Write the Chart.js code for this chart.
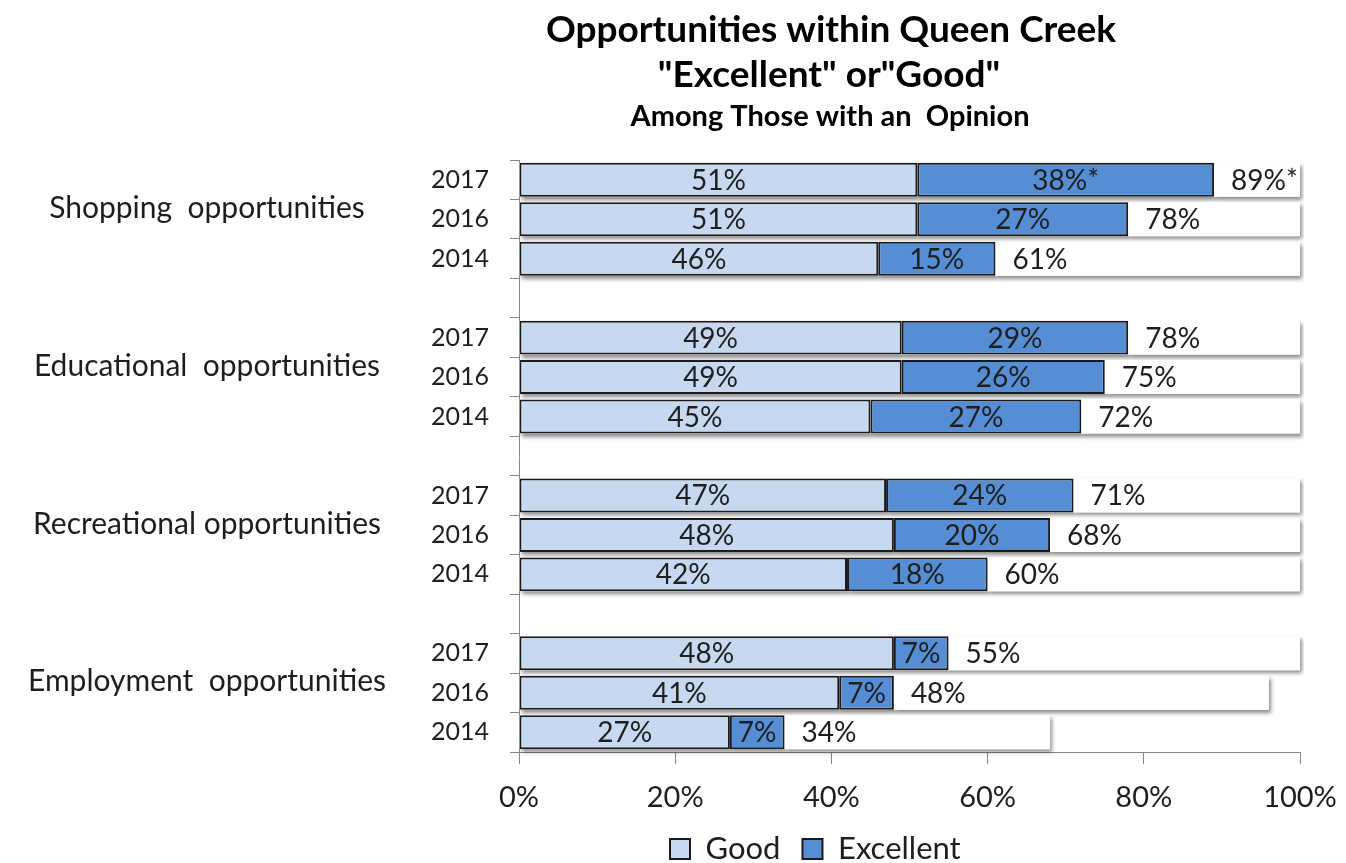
<!DOCTYPE html>
<html>
<head>
<meta charset="utf-8">
<title>Opportunities within Queen Creek</title>
<script src="https://cdn.jsdelivr.net/npm/chart.js@4.4.1/dist/chart.umd.min.js"></script>
<style>
  html, body { margin: 0; padding: 0; background: #ffffff; }
  #wrap { width: 1346px; height: 863px; position: relative; }
</style>
</head>
<body>
<div id="wrap"><canvas id="opportunities"></canvas></div>
<script>
// survey results, one row per group, years in order 2017 / 2016 / 2014
const groups = ["Shopping  opportunities", "Educational  opportunities", "Recreational opportunities", "Employment  opportunities"];
const years = ["2017", "2016", "2014"];
const good = [[51, 51, 46], [49, 49, 45], [47, 48, 42], [48, 41, 27]];
const excellent = [[38, 27, 15], [29, 26, 27], [24, 20, 18], [7, 7, 7]];
const totals = [[89, 78, 61], [78, 75, 72], [71, 68, 60], [55, 48, 34]];
// significant change vs. previous survey
const starred = [[true, false, false], [false, false, false], [false, false, false], [false, false, false]];
const xTicks = [0, 20, 40, 60, 80, 100];

const FONT = "Lato, 'Liberation Sans', Arial, sans-serif";
const INK = "#1e1e1e";
const LEGEND_FONT = 31;
const LEGEND_PAD = 22;

// flatten groups into rows, with an empty spacer row between groups
const labels = [];
const goodRows = [];
const excRows = [];
const totalRows = [];
const starRows = [];
const groupRow = [];
groups.forEach((g, gi) => {
  if (gi > 0) {
    labels.push("");
    goodRows.push(null);
    excRows.push(null);
    totalRows.push(null);
    starRows.push(false);
  }
  years.forEach((y, yi) => {
    if (yi === 1) groupRow.push(labels.length);
    labels.push(y);
    goodRows.push(good[gi][yi]);
    excRows.push(excellent[gi][yi]);
    totalRows.push(totals[gi][yi]);
    starRows.push(starred[gi][yi]);
  });
});

// soft drop shadow behind every bar
const shadowPlugin = {
  id: "barShadow",
  beforeDatasetsDraw(chart) {
    const { ctx, chartArea } = chart;
    ctx.save();
    ctx.beginPath();
    ctx.rect(chartArea.left, chartArea.top, chartArea.right - chartArea.left + 4, chartArea.bottom - chartArea.top + 6);
    ctx.clip();
    ctx.shadowColor = "rgba(0,0,0,0.45)";
    ctx.shadowBlur = 4;
    ctx.shadowOffsetX = 2;
    ctx.shadowOffsetY = 3;
    ctx.fillStyle = "#ffffff";
    chart.data.datasets.forEach((ds, i) => {
      chart.getDatasetMeta(i).data.forEach((bar, j) => {
        if (ds.data[j] == null) return;
        const { x, y, base, height } = bar.getProps(["x", "y", "base", "height"], true);
        const left = Math.min(x, base);
        const right = Math.min(Math.max(x, base), chartArea.right);
        ctx.fillRect(left, y - height / 2, right - left, height);
      });
    });
    ctx.restore();
  }
};

// value labels inside the bars and totals after them, plus titles and group names
const textPlugin = {
  id: "chartText",
  afterUpdate(chart) {
    // park the legend under the axis, left of the plot centre
    const legend = chart.legend;
    const first = legend.legendHitBoxes[0];
    const dx = 670 - first.left;
    const h = legend.height;
    legend.left += dx;
    legend.right += dx;
    legend.top = 849 - LEGEND_PAD - LEGEND_FONT / 2;
    legend.bottom = legend.top + h;
  },
  afterDatasetsDraw(chart) {
    const { ctx } = chart;
    const goodMeta = chart.getDatasetMeta(0);
    const excMeta = chart.getDatasetMeta(1);
    ctx.save();
    ctx.fillStyle = INK;
    ctx.textBaseline = "middle";
    ctx.font = "28px " + FONT;
    labels.forEach((lab, j) => {
      if (goodRows[j] == null) return;
      const star = starRows[j] ? "*" : "";
      const g = goodMeta.data[j];
      const e = excMeta.data[j];
      ctx.textAlign = "center";
      ctx.fillText(goodRows[j] + "%", (g.x + g.base) / 2, g.y + 1);
      ctx.fillText(excRows[j] + "%" + star, (e.x + e.base) / 2, e.y + 1);
      ctx.textAlign = "left";
      ctx.fillText(totalRows[j] + "%" + star, e.x + 17, e.y + 1);
    });
    ctx.restore();
  },
  afterDraw(chart) {
    const { ctx } = chart;
    const yScale = chart.scales.y;
    ctx.save();
    ctx.fillStyle = INK;
    ctx.textAlign = "center";
    ctx.textBaseline = "middle";
    ctx.font = "30px " + FONT;
    groups.forEach((g, gi) => {
      ctx.fillText(g, 207, yScale.getPixelForValue(groupRow[gi]) - 11);
    });
    ctx.fillStyle = "#000000";
    ctx.font = "bold 37px " + FONT;
    ctx.fillText("Opportunities within Queen Creek", 831, 30);
    ctx.fillText("\"Excellent\" or\"Good\"", 829, 75);
    ctx.font = "bold 29px " + FONT;
    ctx.fillText("Among Those with an  Opinion", 830, 117);
    ctx.restore();
  }
};

new Chart(document.getElementById("opportunities"), {
  type: "bar",
  data: {
    labels,
    datasets: [
      {
        label: "Good",
        data: goodRows,
        backgroundColor: "#c6d9f1",
        borderColor: "#1a1a1a",
        borderWidth: 2,
        borderSkipped: false,
        stack: "s"
      },
      {
        label: "Excellent",
        data: excRows,
        backgroundColor: "#558ed5",
        borderColor: "#1a1a1a",
        borderWidth: 2,
        borderSkipped: false,
        stack: "s"
      },
      {
        label: "Total",
        data: totalRows,
        backgroundColor: "#ffffff",
        borderWidth: 0,
        stack: "s"
      }
    ]
  },
  options: {
    indexAxis: "y",
    responsive: true,
    maintainAspectRatio: false,
    animation: false,
    datasets: {
      bar: { barPercentage: 0.86, categoryPercentage: 1 }
    },
    layout: {
      // negative bottom lets the legend box hang below the canvas edge;
      // it is repositioned in afterUpdate
      padding: { top: 160, right: 46, left: 0, bottom: -40 }
    },
    scales: {
      x: {
        stacked: true,
        min: 0,
        max: 100,
        afterBuildTicks(scale) {
          scale.ticks = xTicks.map(v => ({ value: v }));
        },
        afterFit(scale) {
          scale.height = 863 + 40 - 752 - (LEGEND_FONT + LEGEND_PAD + 10);
          scale.paddingLeft = 0;
          scale.paddingRight = 0;
        },
        border: { display: true, color: "#868686", width: 1 },
        grid: { drawOnChartArea: false, drawTicks: true, tickLength: 12, color: "#868686" },
        ticks: {
          padding: 16,
          color: INK,
          font: { family: FONT, size: 29 },
          callback: v => v + "%"
        }
      },
      y: {
        stacked: true,
        afterFit(scale) {
          scale.width = 519;
        },
        border: { display: true, color: "#868686", width: 1 },
        grid: { drawOnChartArea: false, drawTicks: true, tickLength: 9, offset: true, color: "#868686" },
        ticks: {
          padding: 21,
          color: INK,
          autoSkip: false,
          font: { family: FONT, size: 25 }
        }
      }
    },
    plugins: {
      tooltip: { enabled: false },
      title: { display: false },
      legend: {
        display: true,
        position: "bottom",
        labels: {
          boxWidth: 20,
          boxHeight: 20,
          padding: LEGEND_PAD,
          color: INK,
          font: { family: FONT, size: LEGEND_FONT },
          filter: item => item.datasetIndex < 2
        }
      }
    }
  },
  plugins: [shadowPlugin, textPlugin]
});
</script>
</body>
</html>
